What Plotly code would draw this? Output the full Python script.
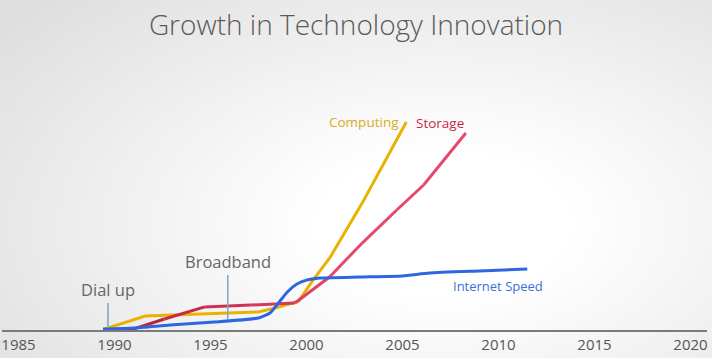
import base64, struct, zlib
import numpy as np
import plotly.graph_objects as go

# ---------------- data ----------------
computing_year = [1989.5, 1991.6, 1997.5, 1998.6, 1999.6, 2000.3, 2001.2, 2002.9, 2005.2]
computing_val = [0.5, 6.7, 8.7, 11.1, 14.0, 23.5, 34.5, 61.0, 100.0]

storage_year = [1989.7, 1991.0, 1992.6, 1994.7, 1997.1, 1999.4, 2001.2, 2002.9, 2004.7, 2006.1, 2008.3]
storage_val = [0.3, 0.5, 5.3, 11.1, 12.0, 13.0, 25.5, 41.8, 57.7, 69.7, 94.7]

internet_year = [1989.4, 1991.0, 1992.9, 1995.2, 1997.5, 1998.1, 1998.5, 1999.0, 1999.5,
                 2000.0, 2000.7, 2002.8, 2005.0, 2006.4, 2009.0, 2011.5]
internet_val = [0.5, 1.0, 2.4, 3.8, 5.8, 8.2, 12.5, 18.3, 22.1,
                24.0, 25.0, 25.5, 26.0, 27.4, 28.4, 29.3]

tick_years = [1985, 1990, 1995, 2000, 2005, 2010, 2015, 2020]

events = ["Dial up", "Broadband"]
event_year = [1989.66, 1995.9]
event_val = [1.0, 5.3]

# ---------------- background gradient image ----------------
def make_png(arr):
    h, w, _ = arr.shape
    raw = b"".join(b"\x00" + arr[r].tobytes() for r in range(h))
    def chunk(t, d):
        c = struct.pack(">I", len(d)) + t + d
        return c + struct.pack(">I", zlib.crc32(t + d) & 0xFFFFFFFF)
    return (b"\x89PNG\r\n\x1a\n" + chunk(b"IHDR", struct.pack(">IIBBBBB", w, h, 8, 2, 0, 0, 0))
            + chunk(b"IDAT", zlib.compress(raw, 9)) + chunk(b"IEND", b""))

W, H = 178, 90
yy, xx = np.mgrid[0:H, 0:W]
dx = (xx - W * 0.62) / (W * 0.75)
dy = (yy - H * 0.62) / (H * 0.85)
d = np.sqrt(dx ** 2 + dy ** 2)
g = 255 - np.clip(d - 0.25, 0, 1) * 40
g = np.clip(g, 222, 255).astype(np.uint8)
img = np.stack([g, g, g], axis=-1)
bg_uri = "data:image/png;base64," + base64.b64encode(make_png(img)).decode()

# ---------------- figure ----------------
fig = go.Figure()

fig.add_trace(go.Scatter(x=computing_year, y=computing_val, mode="lines",
                         line=dict(color="#e8b200", width=3), hoverinfo="skip", showlegend=False))

c0 = np.array([0xb2, 0x1c, 0x36])
c1 = np.array([0xe8, 0x48, 0x6e])
n = len(storage_year) - 1
for i in range(n):
    t = min(1.0, i / 6.0)
    c = (c0 * (1 - t) + c1 * t).astype(int)
    fig.add_trace(go.Scatter(x=storage_year[i:i + 2], y=storage_val[i:i + 2], mode="lines",
                             line=dict(color="rgb(%d,%d,%d)" % tuple(c), width=3),
                             hoverinfo="skip", showlegend=False))

fig.add_trace(go.Scatter(x=internet_year, y=internet_val, mode="lines",
                         line=dict(color="#2f66df", width=3, shape="spline", smoothing=0.5),
                         hoverinfo="skip", showlegend=False))

font_main = "Open Sans, Noto Sans, sans-serif"

# series labels
fig.add_annotation(x=2003.0, y=100, text="Computing", showarrow=False,
                   font=dict(family=font_main, size=13.5, color="#d8ac1c"))
fig.add_annotation(x=2006.95, y=99.5, text="Storage", showarrow=False,
                   font=dict(family=font_main, size=13.5, color="#c42a48"))
fig.add_annotation(x=2009.97, y=21.2, text="Internet Speed", showarrow=False,
                   font=dict(family=font_main, size=13, color="#3d6fd6"))

# event annotations
offs = [-38, -57]
for name, ex, ev, oy in zip(events, event_year, event_val, offs):
    fig.add_annotation(x=ex, y=ev, text=name, showarrow=True, arrowhead=0, arrowwidth=1.5,
                       arrowcolor="#7aa6c6", ax=0, ay=oy,
                       font=dict(family=font_main, size=16.5, color="#666666"))

fig.update_layout(
    width=712, height=358,
    margin=dict(l=2, r=5, t=60, b=28),
    paper_bgcolor="#ffffff",
    plot_bgcolor="rgba(0,0,0,0)",
    title=dict(text="Growth in Technology Innovation", x=0.5, xanchor="center",
               y=1 - 25 / 358, yanchor="middle",
               font=dict(family=font_main, size=28, color="#5a5a5a", weight=300)),
    images=[dict(source=bg_uri, xref="paper", yref="paper", x=-2 / 705, y=1 + 60 / 270,
                 sizex=712 / 705, sizey=358 / 270, xanchor="left", yanchor="top",
                 sizing="stretch", layer="below")],
    xaxis=dict(range=[1984.14, 2020.86], tickvals=tick_years,
               ticktext=[str(t) for t in tick_years], showgrid=False, zeroline=False,
               showline=True, linecolor="#7a7a7a", linewidth=1.5, ticks="",
               tickfont=dict(family=font_main, size=15, color="#555555")),
    yaxis=dict(range=[0, 129.8], visible=False, showgrid=False, zeroline=False),
)

fig.write_html("out.html", config={"displayModeBar": False},
               post_script="document.body.style.margin='0';document.body.style.overflow='hidden';")
